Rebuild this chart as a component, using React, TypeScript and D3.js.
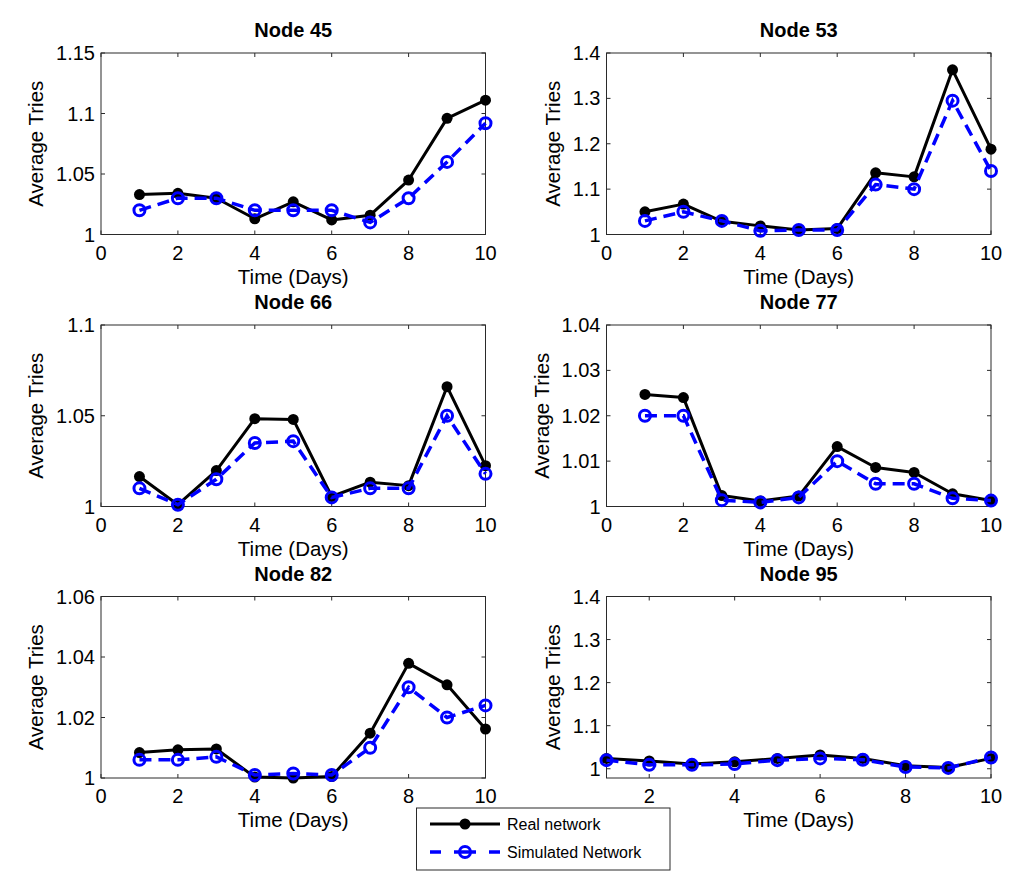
import * as d3 from "d3";

const days = [1, 2, 3, 4, 5, 6, 7, 8, 9, 10];

const nodeNames = ["Node 45", "Node 53", "Node 66", "Node 77", "Node 82", "Node 95"];

const realSeries = [
  [1.033, 1.034, 1.030, 1.013, 1.027, 1.012, 1.016, 1.045, 1.096, 1.111],
  [1.050, 1.067, 1.029, 1.019, 1.010, 1.013, 1.136, 1.127, 1.363, 1.188],
  [1.0165, 1.001, 1.0198, 1.0484, 1.048, 1.0055, 1.0134, 1.0115, 1.066, 1.0225],
  [1.0247, 1.024, 1.0024, 1.0012, 1.0023, 1.0132, 1.0086, 1.0075, 1.0028, 1.0013],
  [1.0084, 1.0093, 1.0096, 1.0003, 1.0, 1.0005, 1.0148, 1.0379, 1.0308, 1.0162],
  [1.024, 1.018, 1.011, 1.016, 1.024, 1.032, 1.024, 1.007, 1.003, 1.024],
];

const simSeries = [
  [1.02, 1.03, 1.03, 1.02, 1.02, 1.02, 1.01, 1.03, 1.06, 1.092],
  [1.03, 1.05, 1.03, 1.008, 1.01, 1.01, 1.11, 1.10, 1.295, 1.14],
  [1.01, 1.001, 1.015, 1.035, 1.036, 1.005, 1.01, 1.01, 1.05, 1.018],
  [1.02, 1.02, 1.0014, 1.0009, 1.002, 1.01, 1.005, 1.005, 1.0018, 1.0013],
  [1.006, 1.006, 1.007, 1.001, 1.0015, 1.001, 1.01, 1.03, 1.02, 1.024],
  [1.02, 1.009, 1.009, 1.011, 1.02, 1.024, 1.021, 1.004, 1.002, 1.026],
];

const yDomains = [
  [1, 1.15],
  [1, 1.4],
  [1, 1.1],
  [1, 1.04],
  [1, 1.06],
  [0.9785, 1.4],
];

const yTickValues = [
  [1, 1.05, 1.1, 1.15],
  [1, 1.1, 1.2, 1.3, 1.4],
  [1, 1.05, 1.1],
  [1, 1.01, 1.02, 1.03, 1.04],
  [1, 1.02, 1.04, 1.06],
  [1, 1.1, 1.2, 1.3, 1.4],
];

const xDomains = [
  [0, 10],
  [0, 10],
  [0, 10],
  [0, 10],
  [0, 10],
  [1, 10],
];

const xTickValues = [
  [0, 2, 4, 6, 8, 10],
  [0, 2, 4, 6, 8, 10],
  [0, 2, 4, 6, 8, 10],
  [0, 2, 4, 6, 8, 10],
  [0, 2, 4, 6, 8, 10],
  [2, 4, 6, 8, 10],
];

const legendLabels = ["Real network", "Simulated Network"];

const colLeft = [101, 606.5];
const plotW = 384.5;
const rowTop = [53, 325, 596.5];
const plotH = 181.5;
const font = "'Liberation Sans', Arial, Helvetica, sans-serif";
const BLUE = "#0000ff";
const AXIS = "#2a2a2a";
const TICK_FS = 20;
const LABEL_FS = 20.5;

// rough text width of a numeric label (Arial metrics)
const numWidth = (s: string) =>
  s.split("").reduce((w, c) => w + (c === "." ? 0.278 : 0.556), 0) * TICK_FS;

const Panel = ({ i }: { i: number }) => {
  const left = colLeft[i % 2];
  const top = rowTop[Math.floor(i / 2)];
  const x = d3.scaleLinear().domain(xDomains[i]).range([left, left + plotW]);
  const y = d3.scaleLinear().domain(yDomains[i]).range([top + plotH, top]);
  const line = d3
    .line<number>()
    .x((_, k) => x(days[k]))
    .y((d) => y(d));
  const bottom = top + plotH;
  const right = left + plotW;
  const tick = 4;
  const maxLabel = d3.max(yTickValues[i], (t) => numWidth(String(t))) || 0;
  const yLabelX = left - 6 - maxLabel - 13;
  return (
    <g>
      <text
        x={left + plotW / 2}
        y={top - 16}
        textAnchor="middle"
        fontFamily={font}
        fontWeight="bold"
        fontSize={20}
      >
        {nodeNames[i]}
      </text>
      <rect x={left} y={top} width={plotW} height={plotH} fill="none" stroke={AXIS} strokeWidth={1} />
      {xTickValues[i].map((t) => (
        <g key={"x" + t}>
          <line x1={x(t)} x2={x(t)} y1={bottom} y2={bottom - tick} stroke={AXIS} />
          <line x1={x(t)} x2={x(t)} y1={top} y2={top + tick} stroke={AXIS} />
          <text x={x(t)} y={bottom + 25} textAnchor="middle" fontFamily={font} fontSize={TICK_FS}>
            {t}
          </text>
        </g>
      ))}
      {yTickValues[i].map((t) => (
        <g key={"y" + t}>
          <line x1={left} x2={left + tick} y1={y(t)} y2={y(t)} stroke={AXIS} />
          <line x1={right} x2={right - tick} y1={y(t)} y2={y(t)} stroke={AXIS} />
          <text x={left - 6} y={y(t) + 7} textAnchor="end" fontFamily={font} fontSize={TICK_FS}>
            {String(t)}
          </text>
        </g>
      ))}
      <text
        x={left + plotW / 2}
        y={bottom + 49}
        textAnchor="middle"
        fontFamily={font}
        fontSize={LABEL_FS}
      >
        Time (Days)
      </text>
      <text
        transform={`translate(${yLabelX},${top + plotH / 2}) rotate(-90)`}
        textAnchor="middle"
        fontFamily={font}
        fontSize={LABEL_FS}
      >
        Average Tries
      </text>
      <path d={line(realSeries[i]) || ""} fill="none" stroke="#000" strokeWidth={3} strokeLinejoin="round" />
      {realSeries[i].map((v, k) => (
        <circle key={"r" + k} cx={x(days[k])} cy={y(v)} r={5.5} fill="#000" />
      ))}
      <path
        d={line(simSeries[i]) || ""}
        fill="none"
        stroke={BLUE}
        strokeWidth={3.5}
        strokeDasharray="12 7"
      />
      {simSeries[i].map((v, k) => (
        <circle key={"s" + k} cx={x(days[k])} cy={y(v)} r={5.5} fill="none" stroke={BLUE} strokeWidth={3} />
      ))}
    </g>
  );
};

const Legend = () => {
  const bx = 416.5;
  const by = 808;
  const rows = [824, 852];
  return (
    <g>
      <rect x={bx} y={by} width={253.5} height={62} fill="#fff" stroke={AXIS} strokeWidth={1} />
      <line x1={430} x2={500} y1={rows[0]} y2={rows[0]} stroke="#000" strokeWidth={3} />
      <circle cx={465} cy={rows[0]} r={5.5} fill="#000" />
      <line x1={430} x2={500} y1={rows[1]} y2={rows[1]} stroke={BLUE} strokeWidth={3.5} strokeDasharray="11 13 22 13 11" />
      <circle cx={465} cy={rows[1]} r={5.5} fill="none" stroke={BLUE} strokeWidth={3} />
      {legendLabels.map((l, k) => (
        <text key={l} x={507} y={rows[k] + 6} fontFamily={font} fontSize={16}>
          {l}
        </text>
      ))}
    </g>
  );
};

export default function App() {
  return (
    <svg
      width={1024}
      height={891}
      style={{ position: "absolute", left: 0, top: 0, background: "#fff" }}
    >
      {nodeNames.map((_, i) => (
        <Panel key={i} i={i} />
      ))}
      <Legend />
    </svg>
  );
}
